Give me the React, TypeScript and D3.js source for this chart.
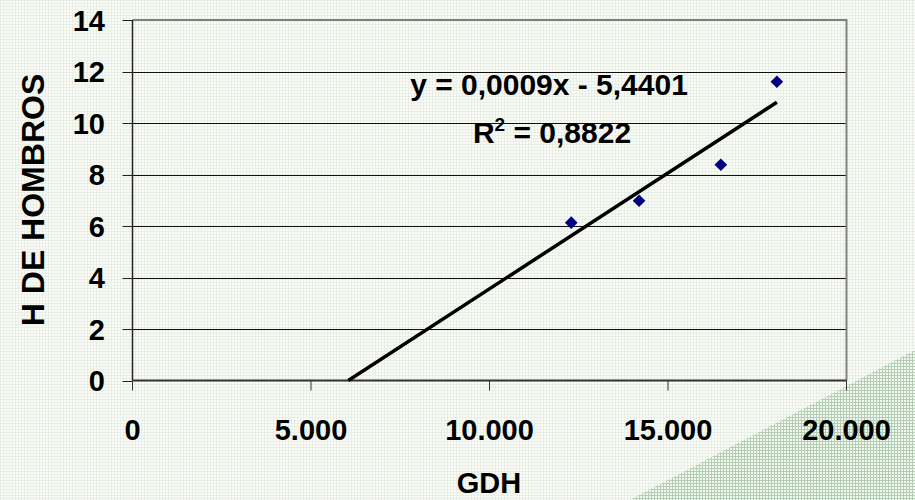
import React, { useEffect, useRef } from "react"
import * as d3 from "d3"

// GDH vs H DE HOMBROS
const gdh = [12290, 14190, 16480, 18050]
const hombros = [6.13, 6.98, 8.38, 11.6]
const yTicks = [0, 2, 4, 6, 8, 10, 12, 14]
const xTicks = [0, 5000, 10000, 15000, 20000]
const slope = 0.0009
const intercept = -5.4401
const equationText = "y = 0,0009x - 5,4401"
const r2Text = " = 0,8822"

const esLocale = d3.formatLocale({
  decimal: ",",
  thousands: ".",
  grouping: [3],
  currency: ["", "€"],
})
const fmtX = esLocale.format(",")

const W = 915
const H = 500
const FONT = "'Liberation Sans', Arial, sans-serif"

export default function App() {
  const svgRef = useRef<SVGSVGElement>(null)

  useEffect(() => {
    if (!svgRef.current) return
    const svg = d3.select(svgRef.current)
    svg.selectAll("*").remove()

    const left = 132.5
    const right = 846.5
    const top = 20
    const bottom = 380.5

    const x = d3.scaleLinear().domain([0, 20000]).range([left, right])
    const y = d3.scaleLinear().domain([0, 14]).range([bottom, top])

    // background patterns
    const defs = svg.append("defs")
    const bg = defs
      .append("pattern")
      .attr("id", "bgdots")
      .attr("width", 3)
      .attr("height", 3)
      .attr("patternUnits", "userSpaceOnUse")
    bg.append("rect").attr("width", 3).attr("height", 3).attr("fill", "#fbfcfa")
    bg.append("rect").attr("width", 1).attr("height", 3).attr("fill", "#e9efe5")
    bg.append("rect").attr("width", 3).attr("height", 1).attr("fill", "#e9efe5")

    const hatch = defs
      .append("pattern")
      .attr("id", "hatch")
      .attr("width", 3)
      .attr("height", 3)
      .attr("patternUnits", "userSpaceOnUse")
    hatch.append("rect").attr("width", 3).attr("height", 3).attr("fill", "#f3f7f2")
    hatch.append("rect").attr("width", 1).attr("height", 3).attr("fill", "#b3ceb1")
    hatch.append("rect").attr("width", 3).attr("height", 1).attr("fill", "#b3ceb1")

    svg.append("rect").attr("width", W).attr("height", H).attr("fill", "url(#bgdots)")
    svg
      .append("path")
      .attr("d", `M630,${H} L${W},350 L${W},${H} Z`)
      .attr("fill", "url(#hatch)")

    // gridlines
    svg
      .append("g")
      .selectAll("line")
      .data(yTicks.filter(t => t > 0 && t < 14))
      .enter()
      .append("line")
      .attr("x1", left)
      .attr("x2", right)
      .attr("y1", d => Math.round(y(d)) + 0.5)
      .attr("y2", d => Math.round(y(d)) + 0.5)
      .attr("stroke", "#111")
      .attr("stroke-width", 1)

    // plot frame (top + right gray)
    svg
      .append("path")
      .attr("d", `M${left},${top} H${right} V${bottom}`)
      .attr("fill", "none")
      .attr("stroke", "#808080")
      .attr("stroke-width", 2)

    // y axis
    svg
      .append("line")
      .attr("x1", left)
      .attr("x2", left)
      .attr("y1", top)
      .attr("y2", bottom)
      .attr("stroke", "#222")
      .attr("stroke-width", 1.5)
    svg
      .append("g")
      .selectAll("line")
      .data(yTicks)
      .enter()
      .append("line")
      .attr("x1", left - 10)
      .attr("x2", left)
      .attr("y1", d => Math.round(y(d)) + 0.5)
      .attr("y2", d => Math.round(y(d)) + 0.5)
      .attr("stroke", "#222")
      .attr("stroke-width", 1)
    svg
      .append("g")
      .selectAll("text")
      .data(yTicks)
      .enter()
      .append("text")
      .attr("x", 105)
      .attr("y", d => y(d) + 10.5)
      .attr("text-anchor", "end")
      .attr("font-family", FONT)
      .attr("font-weight", "bold")
      .attr("font-size", "29px")
      .attr("fill", "#000")
      .text(d => d)

    // x axis
    svg
      .append("line")
      .attr("x1", left)
      .attr("x2", right)
      .attr("y1", bottom)
      .attr("y2", bottom)
      .attr("stroke", "#333")
      .attr("stroke-width", 2)
    svg
      .append("g")
      .selectAll("line")
      .data(xTicks)
      .enter()
      .append("line")
      .attr("x1", d => x(d))
      .attr("x2", d => x(d))
      .attr("y1", bottom)
      .attr("y2", bottom + 10)
      .attr("stroke", "#333")
      .attr("stroke-width", 1)
    svg
      .append("g")
      .selectAll("text")
      .data(xTicks)
      .enter()
      .append("text")
      .attr("x", d => x(d))
      .attr("y", 440)
      .attr("text-anchor", "middle")
      .attr("font-family", FONT)
      .attr("font-weight", "bold")
      .attr("font-size", "29px")
      .attr("fill", "#000")
      .text(d => fmtX(d))

    // axis titles
    svg
      .append("text")
      .attr("x", 489)
      .attr("y", 493)
      .attr("text-anchor", "middle")
      .attr("font-family", FONT)
      .attr("font-weight", "bold")
      .attr("font-size", "29px")
      .text("GDH")
    svg
      .append("text")
      .attr("transform", `translate(44,200) rotate(-90)`)
      .attr("text-anchor", "middle")
      .attr("font-family", FONT)
      .attr("font-weight", "bold")
      .attr("font-size", "32px")
      .text("H DE HOMBROS")

    // trend line
    const x0 = -intercept / slope
    const x1 = d3.max(gdh) as number
    svg
      .append("line")
      .attr("x1", x(x0))
      .attr("y1", y(slope * x0 + intercept))
      .attr("x2", x(x1))
      .attr("y2", y(slope * x1 + intercept))
      .attr("stroke", "#000")
      .attr("stroke-width", 3.5)

    // points
    const diamond = d3.symbol().type(d3.symbolSquare).size(80)
    svg
      .append("g")
      .selectAll("path")
      .data(gdh.map((g, i) => ({ g, h: hombros[i] })))
      .enter()
      .append("path")
      .attr("d", diamond() as string)
      .attr("transform", d => `translate(${x(d.g)},${y(d.h)}) rotate(45)`)
      .attr("fill", "#000080")

    // equation
    svg
      .append("text")
      .attr("x", 549)
      .attr("y", 95)
      .attr("text-anchor", "middle")
      .attr("font-family", FONT)
      .attr("font-weight", "bold")
      .attr("font-size", "30px")
      .text(equationText)
    const r2 = svg
      .append("text")
      .attr("x", 552)
      .attr("y", 143)
      .attr("text-anchor", "middle")
      .attr("font-family", FONT)
      .attr("font-weight", "bold")
      .attr("font-size", "30px")
    r2.append("tspan").text("R")
    r2.append("tspan").attr("dy", -12).attr("font-size", "19px").text("2")
    r2.append("tspan").attr("dy", 12).text(r2Text)
  }, [])

  return (
    <svg
      ref={svgRef}
      width={W}
      height={H}
      style={{ position: "absolute", left: 0, top: 0, display: "block" }}
    />
  )
}
